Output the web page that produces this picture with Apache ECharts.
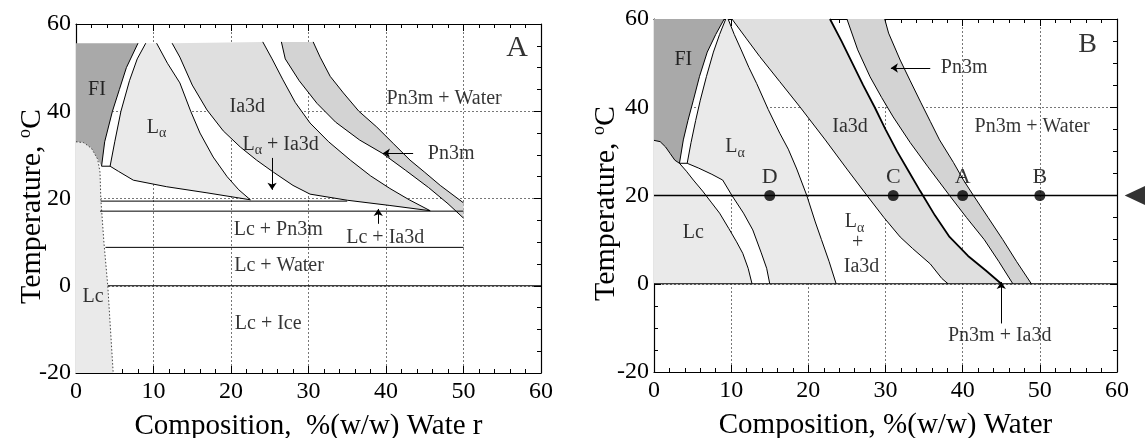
<!DOCTYPE html>
<html>
<head>
<meta charset="utf-8">
<script src="https://cdn.jsdelivr.net/npm/echarts@6/dist/echarts.min.js"></script>
<style>
    html, body { margin: 0; padding: 0; background: #fff; }
    #chart { width: 1145px; height: 438px; }
</style>
</head>
<body>
<div id="chart"></div>
<script>
    var FONT = 'Liberation Serif';

    // ---- panel A : boundaries, [composition %, temperature C]
    var fiA = [[0, 55.6], [8.0, 55.6], [6.5, 50], [5.6, 45], [4.7, 40], [3.7, 33], [3.3, 27.4], [2.8, 29], [2, 31.5], [1, 32.8], [0, 33]];
    var fiEdgeA = [[3.3, 27.4], [3.7, 33], [4.7, 40], [5.6, 45], [6.5, 50], [8.0, 55.6]];
    var lcEdgeA = [[0, 33], [1, 32.8], [2, 31.5], [2.8, 29], [3.1, 26], [3.2, 20], [3.6, 10], [4.1, 0], [4.8, -20]];
    var laLeftA = [[4.4, 27.4], [5.0, 33], [5.8, 40], [6.9, 47], [7.9, 52], [9.0, 55.6]];
    var laRightA = [[10.4, 55.6], [11.8, 51], [13.4, 46.5], [14.8, 40], [16, 35], [17.7, 29.5], [19.5, 25], [21, 22], [22.5, 19.7]];
    var laBottomA = [[22.5, 19.7], [16.9, 21.3], [11.7, 22.7], [7.4, 24.2], [5.5, 26.2], [4.4, 27.4]];
    var ia3dLeftA = [[12.4, 55.6], [13.4, 52.4], [15, 46], [16.9, 40.3], [19, 35.5], [21.2, 31.8], [23.3, 28.8], [25.5, 26], [28, 23], [30.2, 21], [35, 19.6], [40.5, 18.4], [45.7, 17.2]];
    var ia3dRightA = [[24.1, 55.9], [25.3, 52], [26.7, 47.2], [28.3, 42], [30.2, 37.3], [32.6, 33], [35.4, 28.8], [38, 25.2], [40.5, 22.3], [43, 19.7], [45.7, 17.2]];
    var pn3mLeftA = [[26.5, 55.9], [27, 52], [28.8, 47], [31.1, 41.8], [33.5, 37.5], [36.6, 33.4], [39.5, 30.4], [42.5, 26.5], [45.5, 22.5], [48, 18.8], [50, 15.5]];
    var pn3mRightA = [[30.6, 55.9], [31.5, 52.4], [32.8, 48], [34.5, 44.2], [36.5, 40], [38.8, 36.4], [41, 32.5], [43.1, 28.8], [45, 26], [47, 23], [50, 19]];
    var tieLinesA = [
        [[3.3, 27.4], [4.4, 27.4]],
        [[3.2, 19.4], [35, 19.4]],
        [[3.1, 17.1], [50, 17.1]],
        [[3.8, 8.8], [50, 8.8]],
        [[4.1, 0], [60, 0]]
    ];
    var arrowsA = [
        [[25.3, 29.3], [25.3, 22]],
        [[39, 14.2], [39, 17.6]],
        [[43.5, 30.4], [39.6, 30.4]]
    ];
    var labelsA = [
        [2.7, 44.9, 'FI'],
        [10.4, 36.2, '{l|L}{s|α}'],
        [22.1, 41, 'Ia3d'],
        [26.4, 32.4, '{l|L}{s|α}{l| + Ia3d}'],
        [47.5, 42.8, 'Pn3m + Water'],
        [48.4, 30.2, 'Pn3m'],
        [26.1, 12.8, 'Lc + Pn3m'],
        [39.9, 11, 'Lc + Ia3d'],
        [26.2, 4.5, 'Lc + Water'],
        [24.8, -8.8, 'Lc + Ice'],
        [2.2, -2.6, 'Lc']
    ];

    // ---- panel B
    var fiB = [[0, 60], [9.1, 60], [8.0, 56.5], [6.9, 52.5], [5.9, 47], [5.1, 41.6], [4.4, 37], [3.8, 32.6], [3.3, 27.3], [2.7, 28], [2.1, 29.5], [1.5, 31], [0.8, 32.2], [0, 32.5]];
    var fiEdgeB = [[3.3, 27.3], [3.8, 32.6], [4.4, 37], [5.1, 41.6], [5.9, 47], [6.9, 52.5], [8.0, 56.5], [9.1, 60]];
    var lcTopB = [[0, 32.5], [0.8, 32.2], [1.5, 31], [2.1, 29.5], [2.7, 28], [3.3, 27.3]];
    var lcEdgeB = [[3.3, 27.3], [4.2, 25.5], [5.1, 23.5], [6.3, 21], [7.4, 18.5], [8.5, 16], [9.7, 12.5], [10.7, 9.5], [11.5, 6.9], [12.2, 3.5], [12.7, 0]];
    var laLeftB = [[4.3, 27.3], [4.8, 32], [5.4, 37], [6.0, 41.6], [6.8, 47], [7.7, 52.5], [8.5, 56.5], [9.3, 60]];
    var laRightB = [[9.6, 60], [10.4, 56.5], [11.3, 53], [12.3, 49], [13.3, 45.4], [14.8, 39.5], [16.3, 34.1], [17.4, 30.5], [18.5, 26], [19.8, 20], [20.9, 14], [21.7, 10], [22.7, 5], [23.6, 0]];
    var laBottomB = [[15, 0], [14.6, 3.5], [13.9, 7], [12.8, 12.2], [11.6, 16], [10.1, 20], [8.9, 23.5], [7.5, 24.8], [5.8, 26.2], [4.3, 27.3]];
    var ia3dLeftB = [[10.1, 60], [12, 55.5], [13.7, 51.5], [16.3, 45.8], [18.9, 40.1], [22.2, 32.6], [25, 26], [27.6, 20], [29.8, 15], [31.9, 10.6], [33.5, 8], [35.8, 4.5], [37.3, 1.2], [38.1, 0]];
    var ia3dRightB = [[22.8, 60], [24.3, 55], [25.7, 50], [27.1, 45], [28.6, 40], [30, 35], [31.5, 30], [33, 25.5], [34.5, 21], [36.4, 15.5], [38.3, 10.6], [40.7, 6.3], [43, 3], [45, 0]];
    var pn3mLeftB = [[25.0, 60], [26.4, 53], [28, 46.9], [29.5, 42.2], [31, 37.8], [33.2, 32], [35.5, 26.5], [38.3, 20], [40.5, 15], [42.8, 10], [44.7, 5], [46.5, 0]];
    var pn3mRightB = [[29.9, 60], [30.4, 56.8], [31.9, 50.7], [33.2, 46], [34.6, 41], [35.8, 36.8], [37, 32.6], [38.8, 27.5], [40.1, 23.5], [41.4, 20], [43.3, 15], [45.2, 10], [47, 5], [48.9, 0]];
    var tieLinesB = [
        [[3.3, 27.3], [4.3, 27.3]],
        [[0, 20], [60, 20]],
        [[0, 0], [60, 0]]
    ];
    var arrowsB = [
        [[35.8, 48.9], [30.7, 48.9]],
        [[45, -9], [45, 0.4]]
    ];
    var samplePoints = [[15, 20, 'D'], [31, 20, 'C'], [40, 20, 'A'], [50, 20, 'B']];
    var labelsB = [
        [3.8, 50.7, 'FI'],
        [10.5, 31, '{l|L}{s|α}'],
        [25.4, 35.5, 'Ia3d'],
        [40.2, 48.9, 'Pn3m'],
        [49, 35.5, 'Pn3m + Water'],
        [5.1, 11.5, 'Lc'],
        [26, 14, '{l|L}{s|α}'],
        [26.4, 9.2, '+'],
        [26.9, 3.8, 'Ia3d'],
        [44.8, -11.7, 'Pn3m + Ia3d']
    ];

    var C_FI = '#a9a9a9', C_LA = '#eaeaea', C_IA = '#dfdfdf', C_PN = '#d3d3d3';

    function fill(k, pts, color) {
        return {
            type: 'custom', xAxisIndex: k, yAxisIndex: k, silent: true, data: [[0, 0]],
            renderItem: function (params, api) {
                return {
                    type: 'polygon',
                    shape: { points: pts.map(function (p) { return api.coord(p); }) },
                    style: { fill: color }
                };
            }
        };
    }

    function edge(k, pts, w, dash, color) {
        return {
            type: 'line', xAxisIndex: k, yAxisIndex: k, data: pts, symbol: 'none', silent: true,
            lineStyle: { color: color || '#000', width: w || 1, type: dash || 'solid' }
        };
    }

    function arrows(k, list) {
        return {
            type: 'lines', coordinateSystem: 'cartesian2d', xAxisIndex: k, yAxisIndex: k,
            symbol: ['none', 'arrow'], symbolSize: 7, silent: true,
            lineStyle: { color: '#000', width: 1, opacity: 1 },
            data: list.map(function (a) { return { coords: a }; })
        };
    }

    var rich = {
        l: { fontFamily: FONT, fontSize: 20, color: '#000' },
        s: { fontFamily: FONT, fontSize: 14, color: '#000', padding: [12, 0, 0, 0] }
    };

    function texts(k, list, size) {
        return {
            type: 'scatter', xAxisIndex: k, yAxisIndex: k, symbolSize: 1, silent: true,
            itemStyle: { color: 'rgba(0,0,0,0)' },
            label: {
                show: true, position: 'inside', formatter: '{b}',
                fontFamily: FONT, fontSize: size || 20, color: '#000', rich: rich
            },
            data: list.map(function (t) { return { name: t[2], value: [t[0], t[1]] }; })
        };
    }

    function concat() {
        var out = [];
        for (var i = 0; i < arguments.length; i++) out = out.concat(arguments[i]);
        return out;
    }

    function rev(a) { return a.slice().reverse(); }

    var series = [
        // A
        fill(0, concat([[0, -20], [4.8, -20]], rev(lcEdgeA)), C_LA),
        fill(0, fiA, C_FI),
        fill(0, concat(laLeftA, laRightA, laBottomA), C_LA),
        fill(0, concat(ia3dLeftA, rev(ia3dRightA)), C_IA),
        fill(0, concat(pn3mLeftA, rev(pn3mRightA)), C_PN),
        edge(0, lcEdgeA, 1, [1.5, 2], '#444'),
        edge(0, fiEdgeA),
        edge(0, laLeftA),
        edge(0, laRightA),
        edge(0, laBottomA),
        edge(0, ia3dLeftA),
        edge(0, ia3dRightA),
        edge(0, pn3mLeftA),
        edge(0, pn3mRightA),
        arrows(0, arrowsA),
        texts(0, labelsA),
        texts(0, [[56.9, 54.5, 'A']], 30),
        // B
        fill(2, concat([[0, 0]], lcTopB, lcEdgeB), C_LA),
        fill(2, fiB, C_FI),
        fill(2, concat(laLeftB, laRightB, laBottomB), C_LA),
        fill(2, concat(ia3dLeftB, rev(ia3dRightB)), C_IA),
        fill(2, concat(pn3mLeftB, rev(pn3mRightB)), C_PN),
        edge(2, lcTopB),
        edge(2, lcEdgeB),
        edge(2, fiEdgeB),
        edge(2, laLeftB),
        edge(2, laRightB),
        edge(2, laBottomB),
        edge(2, ia3dLeftB),
        edge(2, ia3dRightB, 1.8),
        edge(2, pn3mLeftB),
        edge(2, pn3mRightB),
        arrows(2, arrowsB),
        texts(2, labelsB),
        texts(2, [[56.2, 54.1, 'B']], 28),
        {
            type: 'scatter', xAxisIndex: 2, yAxisIndex: 2, symbolSize: 11, silent: true,
            itemStyle: { color: '#000' },
            label: { show: true, position: 'top', distance: 2, formatter: '{b}', fontFamily: FONT, fontSize: 22, color: '#000' },
            data: samplePoints.map(function (p) { return { name: p[2], value: [p[0], p[1]] }; })
        },
        {
            type: 'scatter', xAxisIndex: 2, yAxisIndex: 2, clip: false, silent: true,
            symbol: 'triangle', symbolSize: [32, 34], symbolRotate: 90,
            itemStyle: { color: '#000' },
            data: [[63.2, 20]]
        }
    ];

    tieLinesA.forEach(function (l) { series.push(edge(0, l)); });
    tieLinesB.forEach(function (l, i) { series.push(edge(2, l, i === 1 ? 1.3 : 1)); });

    var yName = '{t|Temperature, }{o|o}{t|C}';
    var nameRich = {
        t: { fontFamily: FONT, fontSize: 30, color: '#000' },
        o: { fontFamily: FONT, fontSize: 18, color: '#000', padding: [0, 0, 14, 0] }
    };

    function xAx(g, top, name) {
        return {
            gridIndex: g, type: 'value', min: 0, max: 60, interval: 10,
            position: top ? 'top' : 'bottom',
            axisLine: { show: true, onZero: false, lineStyle: { color: '#000', width: 1.2 } },
            axisTick: { show: true, inside: true, length: 7, lineStyle: { color: '#000' } },
            minorTick: { show: true, splitNumber: 5, length: 4, lineStyle: { color: '#000' } },
            axisLabel: { show: !top, margin: 7, fontFamily: FONT, fontSize: 24, color: '#000' },
            splitLine: { show: !top, lineStyle: { color: '#555', width: 0.8, type: [2, 2] } },
            name: top ? '' : name, nameLocation: 'middle', nameGap: 39,
            nameTextStyle: { fontFamily: FONT, fontSize: 29, color: '#000' }
        };
    }

    function yAx(g, right, gap) {
        return {
            gridIndex: g, type: 'value', min: -20, max: 60, interval: 20,
            position: right ? 'right' : 'left',
            axisLine: { show: true, onZero: false, lineStyle: { color: '#000', width: 1.2 } },
            axisTick: { show: true, inside: true, length: 7, lineStyle: { color: '#000' } },
            minorTick: { show: true, splitNumber: 4, length: 4, lineStyle: { color: '#000' } },
            axisLabel: { show: !right, margin: 5, fontFamily: FONT, fontSize: 24, color: '#000' },
            splitLine: { show: !right, lineStyle: { color: '#555', width: 0.8, type: [2, 2] } },
            name: right ? '' : yName, nameLocation: 'middle', nameGap: gap || 0, nameRotate: 90,
            nameMoveOverlap: false,
            nameTextStyle: { fontFamily: FONT, fontSize: 30, color: '#000', rich: nameRich, padding: [0, 16, 0, 0] }
        };
    }

    var option = {
        animation: false,
        backgroundColor: '#fff',
        grid: [
            { left: 76, top: 24, width: 465, height: 349, outerBoundsMode: 'none' },
            { left: 654, top: 19, width: 463, height: 353, outerBoundsMode: 'none' }
        ],
        xAxis: [
            xAx(0, false, 'Composition,  %(w/w) Wate r'),
            xAx(0, true),
            xAx(1, false, 'Composition, %(w/w) Water'),
            xAx(1, true)
        ],
        yAxis: [yAx(0, false, 28), yAx(0, true), yAx(1, false, 32), yAx(1, true)],
        series: series
    };

    // series use axis index 0 for panel A and 2 for panel B
    var myChart = echarts.init(document.getElementById('chart'));
    myChart.setOption(option);
</script>
</body>
</html>
